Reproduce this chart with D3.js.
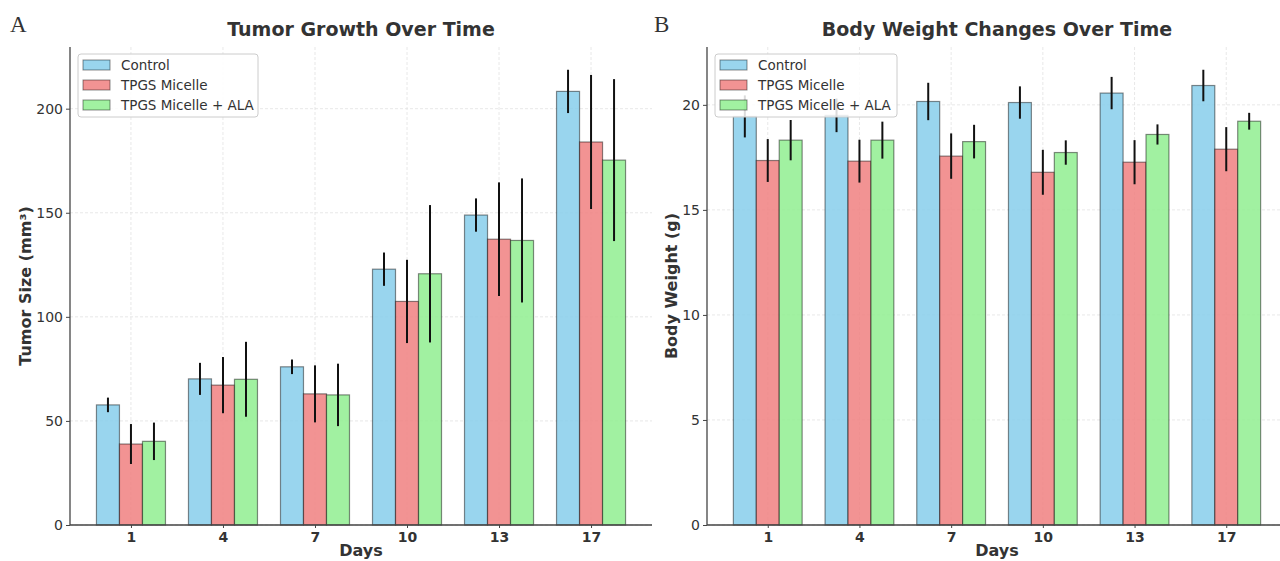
<!DOCTYPE html>
<html>
<head>
<meta charset="utf-8">
<script src="https://cdn.jsdelivr.net/npm/d3@7"></script>
<style>
body { margin: 0; background: #fff; overflow: hidden; }
svg text { font-family: "DejaVu Sans", sans-serif; fill: #333; }
</style>
</head>
<body>
<svg id="chart" width="1280" height="561"></svg>
<script>
// days on the x axis
const days = ['1', '4', '7', '10', '13', '17'];
const groups = ['Control', 'TPGS Micelle', 'TPGS Micelle + ALA'];

// tumor size (mm3) mean / sd
const tumorControl = [57.7, 70.2, 76.0, 122.9, 148.9, 208.3];
const tumorControlSd = [3.5, 7.7, 3.5, 8.0, 8.0, 10.4];
const tumorMicelle = [38.9, 67.2, 63.0, 107.4, 137.3, 184.0];
const tumorMicelleSd = [9.6, 13.5, 13.7, 20.0, 27.3, 32.2];
const tumorAla = [40.2, 70.0, 62.5, 120.7, 136.7, 175.3];
const tumorAlaSd = [9.0, 18.0, 15.0, 33.0, 29.8, 38.9];

// body weight (g) mean / sd
const weightControl = [19.45, 19.5, 20.16, 20.11, 20.56, 20.92];
const weightControlSd = [1.0, 0.8, 0.89, 0.77, 0.77, 0.75];
const weightMicelle = [17.35, 17.32, 17.56, 16.79, 17.27, 17.89];
const weightMicelleSd = [1.02, 1.02, 1.08, 1.07, 1.05, 1.05];
const weightAla = [18.32, 18.32, 18.25, 17.73, 18.59, 19.22];
const weightAlaSd = [0.96, 0.88, 0.8, 0.58, 0.48, 0.4];

const tumorTicks = [0, 50, 100, 150, 200];
const weightTicks = [0, 5, 10, 15, 20];

const colors = ['#87CEEB', '#F08080', '#90EE90'];

const svg = d3.select('#chart');

function drawPanel(opt) {
  const left = opt.left, right = opt.right, top = 47, bottom = 525;
  const g = svg.append('g');

  const series = [
    {name: groups[0], v: opt.means[0], e: opt.errs[0]},
    {name: groups[1], v: opt.means[1], e: opt.errs[1]},
    {name: groups[2], v: opt.means[2], e: opt.errs[2]}
  ];
  let maxTop = 0;
  series.forEach(s => s.v.forEach((v, i) => { maxTop = Math.max(maxTop, v + s.e[i]); }));

  // matplotlib-like margins
  const x = d3.scaleLinear().domain([-0.6625, days.length - 1 + 0.6625]).range([left, right]);
  const y = d3.scaleLinear().domain([0, maxTop * 1.05]).range([bottom, top]);
  const bw = 0.25;

  // grid
  g.append('g').selectAll('line.gy').data(opt.ticks).enter().append('line')
    .attr('x1', left).attr('x2', right)
    .attr('y1', d => y(d)).attr('y2', d => y(d))
    .attr('stroke', '#e2e2e2').attr('stroke-dasharray', '3,2').attr('stroke-width', 0.8);
  g.append('g').selectAll('line.gx').data(days).enter().append('line')
    .attr('x1', (d, i) => x(i)).attr('x2', (d, i) => x(i))
    .attr('y1', top).attr('y2', bottom)
    .attr('stroke', '#e2e2e2').attr('stroke-dasharray', '3,2').attr('stroke-width', 0.8);

  // bars
  series.forEach((s, k) => {
    const off = (k - 1) * bw;
    g.append('g').selectAll('rect').data(s.v).enter().append('rect')
      .attr('x', (d, i) => x(i + off - bw / 2))
      .attr('width', x(bw) - x(0))
      .attr('y', d => y(d))
      .attr('height', d => y(0) - y(d))
      .attr('fill', colors[k]).attr('fill-opacity', 0.85)
      .attr('stroke', '#000').attr('stroke-opacity', 0.45).attr('stroke-width', 1.2);
  });
  // error bars
  series.forEach((s, k) => {
    const off = (k - 1) * bw;
    g.append('g').selectAll('line').data(s.v).enter().append('line')
      .attr('x1', (d, i) => x(i + off)).attr('x2', (d, i) => x(i + off))
      .attr('y1', (d, i) => y(d + s.e[i])).attr('y2', (d, i) => y(d - s.e[i]))
      .attr('stroke', '#111').attr('stroke-width', 2);
  });

  // axes
  const ya = g.append('g').attr('transform', `translate(${left},0)`)
    .call(d3.axisLeft(y).tickValues(opt.ticks).tickSize(4).tickPadding(3));
  ya.select('.domain').attr('stroke', '#444').attr('stroke-width', 1.3).attr('d', `M0,${top}V${bottom}`);
  ya.selectAll('.tick line').attr('stroke', '#444');
  ya.selectAll('.tick text').style('font-size', '14px').attr('fill', '#333');

  const xa = g.append('g').attr('transform', `translate(0,${bottom})`)
    .call(d3.axisBottom(d3.scalePoint().domain(days).range([x(0), x(days.length - 1)])).tickSize(3).tickPadding(4));
  xa.select('.domain').attr('stroke', '#444').attr('stroke-width', 1.3).attr('d', `M${left},0H${right}`);
  xa.selectAll('.tick line').attr('stroke', '#444');
  xa.selectAll('.tick text').style('font-size', '14px').style('font-weight', 'bold').attr('fill', '#222');

  // titles
  g.append('text').attr('x', (left + right) / 2).attr('y', 36).attr('text-anchor', 'middle')
    .style('font-size', '19px').style('font-weight', 'bold').text(opt.title);
  g.append('text').attr('x', opt.daysX).attr('y', 556).attr('text-anchor', 'middle')
    .style('font-size', '16px').style('font-weight', 'bold').attr('fill', '#222').text('Days');
  g.append('text').attr('transform', `translate(${opt.ylabX},${(top + bottom) / 2}) rotate(-90)`)
    .attr('text-anchor', 'middle').style('font-size', '16px').style('font-weight', 'bold')
    .attr('fill', '#222').text(opt.ylabel);
  g.append('text').attr('x', opt.letterX).attr('y', 32)
    .style('font-family', '"Liberation Serif", "DejaVu Serif", serif').style('font-size', '23px')
    .attr('fill', '#222').text(opt.letter);

  // legend
  const lg = g.append('g').attr('transform', `translate(${left + 8},54)`);
  lg.append('rect').attr('width', opt.legW).attr('height', 63).attr('rx', 3)
    .attr('fill', '#fff').attr('fill-opacity', 0.85).attr('stroke', '#ccc');
  groups.forEach((name, k) => {
    lg.append('rect').attr('x', 5).attr('y', 6 + k * 20).attr('width', 27).attr('height', 10)
      .attr('fill', colors[k]).attr('fill-opacity', 0.85)
      .attr('stroke', '#000').attr('stroke-opacity', 0.45);
    lg.append('text').attr('x', 43).attr('y', 16 + k * 20)
      .style('font-size', '13.5px').text(name);
  });
}

drawPanel({
  left: 70, right: 652, title: 'Tumor Growth Over Time', ylabel: 'Tumor Size (mm³)',
  means: [tumorControl, tumorMicelle, tumorAla],
  errs: [tumorControlSd, tumorMicelleSd, tumorAlaSd],
  ticks: tumorTicks, ylabX: 31, letter: 'A', letterX: 10, legW: 180, daysX: 361
});
drawPanel({
  left: 707, right: 1287, title: 'Body Weight Changes Over Time', ylabel: 'Body Weight (g)',
  means: [weightControl, weightMicelle, weightAla],
  errs: [weightControlSd, weightMicelleSd, weightAlaSd],
  ticks: weightTicks, ylabX: 677, letter: 'B', letterX: 654, legW: 182, daysX: 997
});
</script>
</body>
</html>
